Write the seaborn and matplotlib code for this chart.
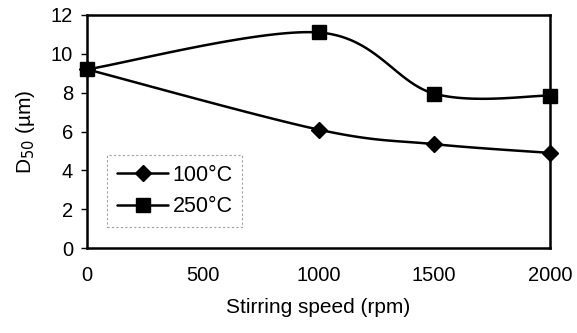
import numpy as np
import pandas as pd
import matplotlib
matplotlib.use("Agg")
import matplotlib.pyplot as plt
import seaborn as sns
from matplotlib.lines import Line2D

speed = [0, 1000, 1500, 2000]
d50_100 = [9.2, 6.1, 5.35, 4.9]
d50_250 = [9.2, 11.1, 7.95, 7.85]
series_names = ["100°C", "250°C"]
markers = ["D", "s"]

sns.set_theme(style="white")
plt.rcParams['font.family'] = ['Liberation Sans', 'DejaVu Sans']
plt.rcParams['text.color'] = 'black'
plt.rcParams['axes.labelcolor'] = 'black'
plt.rcParams['xtick.color'] = 'black'
plt.rcParams['ytick.color'] = 'black'


def smooth(xs, ys, n=40):
    P = np.column_stack([xs, ys]).astype(float)
    out = []
    for i in range(len(P) - 1):
        p0 = P[i - 1] if i > 0 else P[i]
        p1 = P[i]
        p2 = P[i + 1]
        p3 = P[i + 2] if i + 2 < len(P) else P[i + 1]
        c1 = p1 + (p2 - p0) / 6.0
        c2 = p2 - (p3 - p1) / 6.0
        t = np.linspace(0, 1, n)[:, None]
        seg = ((1 - t) ** 3) * p1 + 3 * ((1 - t) ** 2) * t * c1 + 3 * (1 - t) * t ** 2 * c2 + t ** 3 * p2
        out.append(seg if i == 0 else seg[1:])
    s = np.vstack(out)
    return s[:, 0], s[:, 1]


fig = plt.figure(figsize=(5.77, 3.33), dpi=100)
ax = fig.add_axes([0.151, 0.255, 0.802, 0.700])

for name, vals, m in zip(series_names, [d50_100, d50_250], markers):
    sx, sy = smooth(speed, vals)
    sns.lineplot(x=sx, y=sy, ax=ax, color="black", lw=1.8, sort=False, estimator=None)
    ax.plot(speed, vals, linestyle="none", marker=m, color="black",
            markersize=8.5 if m == "D" else 9.5, zorder=5, clip_on=False)

handles = [Line2D([0], [0], color="black", lw=1.8, marker=m, markersize=8.5 if m == "D" else 9.5)
           for m in markers]
leg = ax.legend(handles, series_names, loc="lower left", bbox_to_anchor=(0.043, 0.09),
                frameon=True, fontsize=15.5, handlelength=2.4, handletextpad=0.2,
                borderpad=0.45, labelspacing=0.5, fancybox=False, borderaxespad=0)
leg.get_frame().set_edgecolor("#888888")
leg.get_frame().set_linestyle((0, (2, 2)))
leg.get_frame().set_linewidth(0.8)

ax.set_xlim(0, 2000)
ax.set_ylim(0, 12)
ax.set_xticks([0, 500, 1000, 1500, 2000])
ax.set_yticks([0, 2, 4, 6, 8, 10, 12])
for s in ax.spines.values():
    s.set_color("black")
    s.set_linewidth(1.8)
ax.tick_params(axis="y", left=True, length=4, width=1, color="black", labelsize=14.5, pad=6)
ax.tick_params(axis="x", bottom=False, labelsize=14.5, pad=7)
ax.set_xlabel("Stirring speed (rpm)", fontsize=15, labelpad=9)
ax.set_ylabel("D$_{50}$ (µm)", fontsize=15, labelpad=10)
ax.grid(False)

fig.savefig("out.png", dpi=100)
